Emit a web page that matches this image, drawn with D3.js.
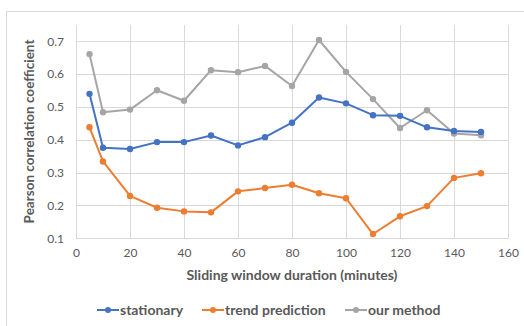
<!DOCTYPE html>
<html><head><meta charset="utf-8">
<script src="https://cdn.jsdelivr.net/npm/d3@7"></script>
<style>body{margin:0;background:#fff;}svg{display:block;font-family:Lato,"Open Sans",sans-serif;}</style>
</head><body>
<svg id="c" width="524" height="326"></svg>
<script>
const xValues = [5,10,20,30,40,50,60,70,80,90,100,110,120,130,140,150];
const stationary = [0.540,0.376,0.372,0.393,0.393,0.413,0.383,0.408,0.452,0.529,0.511,0.475,0.473,0.438,0.427,0.424];
const trendPrediction = [0.438,0.334,0.229,0.193,0.182,0.179,0.243,0.253,0.263,0.237,0.222,0.113,0.167,0.198,0.284,0.298];
const ourMethod = [0.661,0.484,0.492,0.551,0.519,0.612,0.606,0.625,0.564,0.704,0.607,0.524,0.436,0.490,0.419,0.414];
const xTicks = [0,20,40,60,80,100,120,140,160];
const yTicks = [0.1,0.2,0.3,0.4,0.5,0.6,0.7];
const seriesNames = ["stationary","trend prediction","our method"];
const seriesColors = ["#4472C4","#ED7D31","#A5A5A5"];
const xTitle = "Sliding window duration (minutes)";
const yTitle = "Pearson correlation coefficient";

(function(){
const svg = d3.select("#c");
svg.append("rect").attr("x",6.5).attr("y",11.5).attr("width",600).attr("height",400)
  .attr("fill","#fff").attr("stroke","#d9d9d9");

const x = d3.scaleLinear().domain([0,160]).range([76,508]);
const y = d3.scaleLinear().domain([0.1,0.7]).range([238.3,41.3]);
const plotTop = 25;

const g = svg.append("g");
g.selectAll("line.h").data(yTicks).join("line")
  .attr("x1",x(0)).attr("x2",x(160)).attr("y1",d=>Math.round(y(d))+0.5).attr("y2",d=>Math.round(y(d))+0.5)
  .attr("stroke","#d9d9d9").attr("stroke-width",1);
g.selectAll("line.v").data(xTicks).join("line")
  .attr("x1",d=>Math.round(x(d))+0.5).attr("x2",d=>Math.round(x(d))+0.5)
  .attr("y1",plotTop).attr("y2",Math.round(y(0.1))+0.5)
  .attr("stroke","#d9d9d9").attr("stroke-width",1);

const yAxis = svg.append("g").attr("transform",`translate(${x(0)},0)`)
  .call(d3.axisLeft(y).tickValues(yTicks).tickFormat(d3.format(".1f")).tickSize(0).tickPadding(12));
yAxis.select(".domain").remove();
yAxis.selectAll("text").attr("fill","#595959").style("font-size","12px").style("font-family","Lato,'Open Sans',sans-serif");

const xAxis = svg.append("g").attr("transform",`translate(0,${y(0.1)})`)
  .call(d3.axisBottom(x).tickValues(xTicks).tickFormat(d3.format("d")).tickSize(0).tickPadding(10));
xAxis.select(".domain").remove();
xAxis.selectAll("text").attr("fill","#595959").style("font-size","12px").style("font-family","Lato,'Open Sans',sans-serif");

svg.append("text").attr("x",292).attr("y",280).attr("text-anchor","middle")
  .attr("font-size","14px").attr("font-weight","bold").attr("fill","#595959").text(xTitle);
svg.append("text").attr("transform",`translate(34,131.5) rotate(-90)`).attr("text-anchor","middle")
  .attr("font-size","13.5px").attr("font-weight","bold").attr("fill","#595959").text(yTitle);

const allSeries = [stationary, trendPrediction, ourMethod];
const line = d3.line().x((d,i)=>x(xValues[i])).y(d=>y(d));
[2,0,1].forEach(si=>{
  const data = allSeries[si];
  const sg = svg.append("g");
  sg.append("path").attr("d",line(data)).attr("fill","none").attr("stroke",seriesColors[si])
    .attr("stroke-width",2).attr("stroke-linejoin","round");
  sg.selectAll("circle").data(data).join("circle")
    .attr("cx",(d,i)=>x(xValues[i])).attr("cy",d=>y(d)).attr("r",3.2).attr("fill",seriesColors[si]);
});

const legX = [97,202,345];
const legY = 310;
seriesNames.forEach((n,i)=>{
  const lg = svg.append("g");
  lg.append("line").attr("x1",legX[i]).attr("x2",legX[i]+22).attr("y1",legY).attr("y2",legY)
    .attr("stroke",seriesColors[i]).attr("stroke-width",2);
  lg.append("circle").attr("cx",legX[i]+11).attr("cy",legY).attr("r",3).attr("fill",seriesColors[i]);
  lg.append("text").attr("x",legX[i]+23).attr("y",legY+4.5).attr("font-size","14px").attr("font-weight","bold")
    .attr("fill","#595959").text(n);
});
})();
</script>
</body></html>
